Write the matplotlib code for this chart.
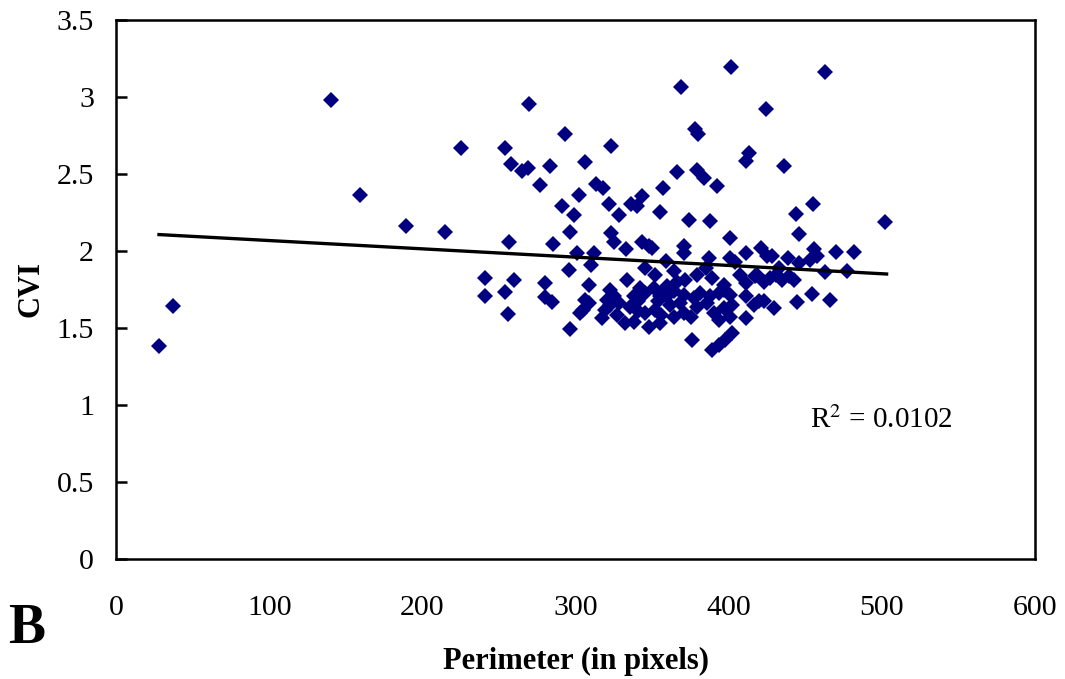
"""CVI vs perimeter scatter with linear trend line (panel B)."""
import matplotlib
matplotlib.use("Agg")
import matplotlib.pyplot as plt
import numpy as np

plt.rcParams["font.family"] = ["Liberation Serif", "DejaVu Serif"]
plt.rcParams["mathtext.fontset"] = "stix"

# perimeter (pixels), CVI
perimeter = [
    28, 37, 140, 159, 189, 215, 225,
    369, 269.5, 293, 378, 380, 254, 323, 258, 265, 269, 283, 306, 277, 313.5,
    318, 366, 379, 384, 357, 392, 302, 291, 322, 336, 343, 340, 355, 299, 328.5,
    374, 388, 401.5, 463, 424, 413, 411, 436, 455, 443.6, 502, 446, 400.5,
    296.5, 323, 325, 256.6, 285.5, 343, 348, 350, 333, 301, 312, 310, 370.6,
    370.6, 387, 401, 411, 420.7, 425, 404, 428.3, 438.8, 455.6, 457.7, 469.7,
    481.7, 446, 453.3, 359, 345, 352, 295.4, 333.5, 241, 259.5, 280, 463,
    477.3, 432.7, 439.2, 434.8, 430.5, 442.5, 427, 417.4, 407.6, 411, 418.5,
    423, 364, 371.7, 366, 379, 384.8, 389, 309,
    241, 254, 280, 284.5, 255.6, 296, 306, 303, 308.5, 305, 322.7, 324.8,
    320.5, 317, 319, 322.6, 328, 327, 332.5, 338, 335.7, 341, 345.5, 347.7,
    352, 355, 356, 354, 342, 345.5, 351, 355, 358.6, 338, 341, 359.7, 396.7,
    393.5, 401, 388, 381.5, 377, 370.6, 364, 359.7, 396.7, 411, 419.6, 416.3,
    429.4, 444.6, 454, 466, 361.9, 368.4, 370.6, 364, 375, 379.3, 385.8,
    390.2, 393.5, 396.7, 401, 402.2, 411, 423, 402, 397.8, 393.5, 389, 376,
]
cvi = [
    1.38, 1.64, 2.98, 2.36, 2.16, 2.12, 2.67,
    3.06, 2.955, 2.76, 2.79, 2.76, 2.67, 2.68, 2.56, 2.515, 2.535, 2.55, 2.575,
    2.43, 2.435, 2.41, 2.51, 2.525, 2.47, 2.41, 2.42, 2.36, 2.29, 2.305, 2.305,
    2.357, 2.29, 2.25, 2.23, 2.23, 2.20, 2.19, 3.19, 3.16, 2.92, 2.635, 2.58,
    2.55, 2.305, 2.24, 2.186, 2.11, 2.08,
    2.12, 2.115, 2.06, 2.058, 2.045, 2.06, 2.03, 2.017, 2.01, 1.985, 1.985,
    1.91, 2.028, 1.985, 1.952, 1.952, 1.985, 2.017, 1.963, 1.93, 1.963, 1.952,
    2.013, 1.963, 1.995, 1.995, 1.92, 1.94, 1.935, 1.888, 1.84, 1.877, 1.81,
    1.825, 1.81, 1.79, 1.862, 1.866, 1.888, 1.833, 1.812, 1.844, 1.812, 1.823,
    1.833, 1.844, 1.79, 1.844, 1.80, 1.866, 1.812, 1.80, 1.844, 1.888, 1.823,
    1.775,
    1.708, 1.73, 1.70, 1.665, 1.59, 1.495, 1.68, 1.595, 1.66, 1.617, 1.747,
    1.703, 1.68, 1.563, 1.617, 1.65, 1.66, 1.584, 1.53, 1.54, 1.638, 1.606,
    1.595, 1.508, 1.617, 1.53, 1.584, 1.671, 1.758, 1.725, 1.758, 1.703, 1.736,
    1.703, 1.671, 1.768, 1.779, 1.725, 1.714, 1.703, 1.725, 1.693, 1.714,
    1.736, 1.703, 1.747, 1.703, 1.671, 1.649, 1.628, 1.667, 1.719, 1.682,
    1.649, 1.66, 1.595, 1.573, 1.573, 1.638, 1.66, 1.595, 1.552, 1.628, 1.573,
    1.649, 1.563, 1.671, 1.466, 1.422, 1.39, 1.353, 1.422,
]

# linear trend line end points
trend_x = [28, 503]
trend_y = [2.105, 1.849]
r2_label = "R$^2$ = 0.0102"

fig = plt.figure(figsize=(10.65, 6.79), dpi=100)
ax = fig.add_axes([0.109, 0.177, 0.863, 0.794])

ax.plot(perimeter, cvi, linestyle="none", marker="D", markersize=8.6,
        color="#000080", markeredgewidth=0)
ax.plot(trend_x, trend_y, color="black", linewidth=2.4)

ax.set_xlim(0, 600)
ax.set_ylim(0, 3.5)
ax.set_xticks(np.arange(0, 601, 100))
ax.set_yticks(np.arange(0, 3.51, 0.5))
ax.set_yticklabels(["0", "0.5", "1", "1.5", "2", "2.5", "3", "3.5"])
ax.tick_params(axis="y", direction="in", length=8, width=1.8, pad=16,
               labelsize=21.5)
ax.tick_params(axis="x", length=0, pad=26, labelsize=21.5)
for sp in ax.spines.values():
    sp.set_linewidth(1.8)
    sp.set_color("black")

ax.set_xlabel("Perimeter (in pixels)", fontsize=22, fontweight="bold",
              labelpad=19)
ax.set_ylabel("CVI", fontsize=22, fontweight="bold", labelpad=8)
ax.text(453, 0.9, r2_label, fontsize=21, ha="left", va="center")
fig.text(0.008, 0.073, "B", fontsize=40, fontweight="bold", ha="left",
         va="center")

fig.savefig("out.png", dpi=100)
